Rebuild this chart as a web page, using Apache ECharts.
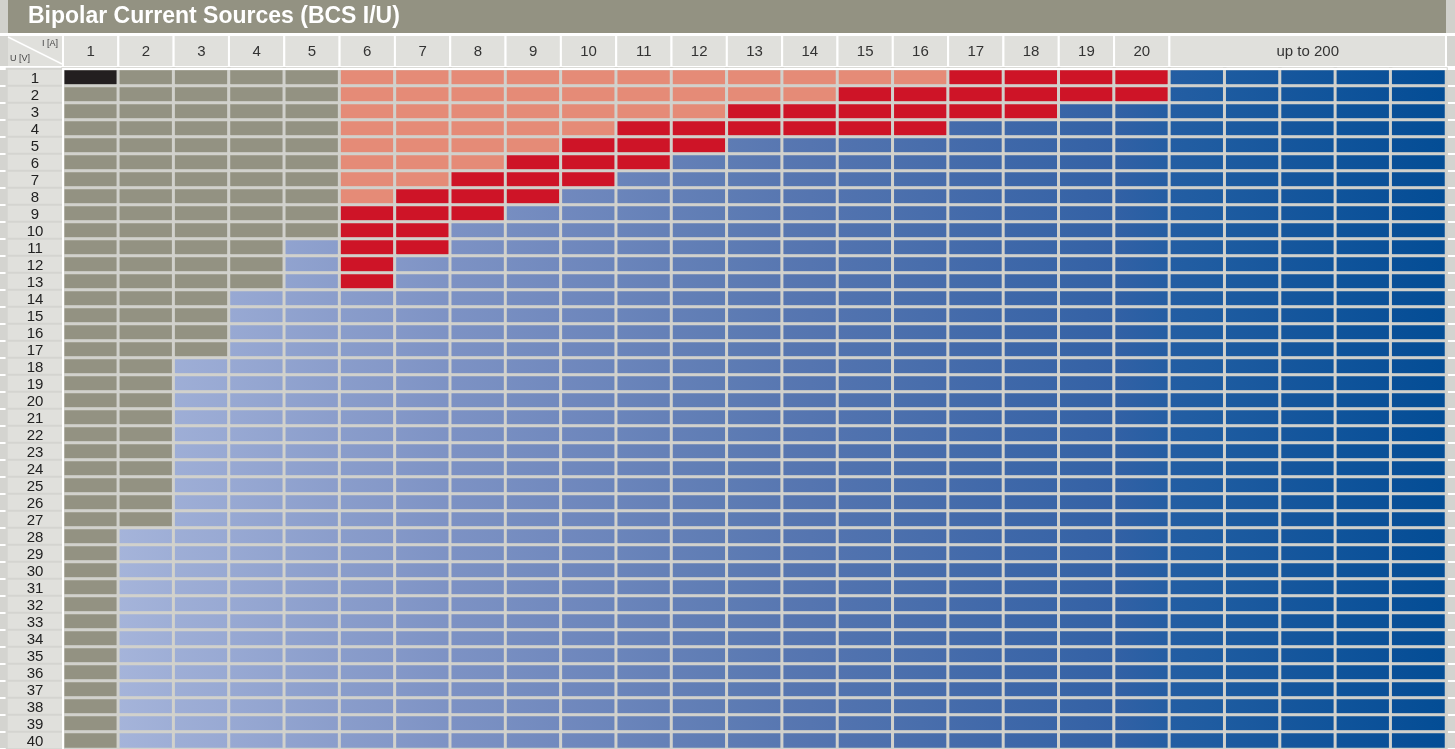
<!DOCTYPE html>
<html>
<head>
<meta charset="utf-8">
<title>Bipolar Current Sources (BCS I/U)</title>
<script src="https://cdn.jsdelivr.net/npm/echarts@6/dist/echarts.min.js"></script>
<style>
  html, body { margin: 0; padding: 0; background: #d1d1cc; }
  #chart { width: 1455px; height: 749px; }
</style>
</head>
<body>
<div id="chart"></div>
<script>
// rows: U [V], columns: I [A]
var voltages = ['1', '2', '3', '4', '5', '6', '7', '8', '9', '10',
  '11', '12', '13', '14', '15', '16', '17', '18', '19', '20',
  '21', '22', '23', '24', '25', '26', '27', '28', '29', '30',
  '31', '32', '33', '34', '35', '36', '37', '38', '39', '40'];
var currents = ['1', '2', '3', '4', '5', '6', '7', '8', '9', '10',
  '11', '12', '13', '14', '15', '16', '17', '18', '19', '20'];
var rangeLabel = 'up to 200';
var rangeCols = ['200-1', '200-2', '200-3', '200-4', '200-5'];

// highest U that is still gray, for I = 1..5
var grayMaxU = [40, 27, 17, 13, 10];
// for I = 6..20 : salmon up to salmonMaxU, then red up to redMaxU, then blue
var salmonMaxU = [8, 7, 6, 5, 4, 3, 3, 2, 2, 1, 1, 0, 0, 0, 0];
var redMaxU = [13, 11, 9, 8, 7, 6, 5, 4, 4, 4, 4, 3, 3, 2, 2];

var KIND_BLACK = 0, KIND_GRAY = 1, KIND_SALMON = 2, KIND_RED = 3, KIND_BLUE = 4;
var flatColors = ['#231f20', '#939282', '#e58b77', '#ce1427'];
// blue shading across the columns (column boundary -> colour)
var blueStops = [[1, '#a5b4da'], [7, '#7d92c4'], [13, '#5877b1'], [19, '#3361a5'], [20, '#245ea3'], [25, '#034d95']];

function hexRgb(h) {
  return [parseInt(h.substr(1, 2), 16), parseInt(h.substr(3, 2), 16), parseInt(h.substr(5, 2), 16)];
}
function blueAt(b) {
  for (var i = 0; i < blueStops.length - 1; i++) {
    var s0 = blueStops[i], s1 = blueStops[i + 1];
    if (b <= s1[0] || i === blueStops.length - 2) {
      var t = Math.max(0, Math.min(1, (b - s0[0]) / (s1[0] - s0[0])));
      var a = hexRgb(s0[1]), c = hexRgb(s1[1]);
      return 'rgb(' + Math.round(a[0] + (c[0] - a[0]) * t) + ',' +
        Math.round(a[1] + (c[1] - a[1]) * t) + ',' + Math.round(a[2] + (c[2] - a[2]) * t) + ')';
    }
  }
}

function cellKind(c, r) {
  var u = r + 1;
  if (c === 0 && r === 0) return KIND_BLACK;
  if (c < 5) return u <= grayMaxU[c] ? KIND_GRAY : KIND_BLUE;
  if (c < 20) {
    var k = c - 5;
    if (u <= salmonMaxU[k]) return KIND_SALMON;
    if (u <= redMaxU[k]) return KIND_RED;
  }
  return KIND_BLUE;
}

var cells = [];
for (var r = 0; r < voltages.length; r++) {
  for (var c = 0; c < currents.length + rangeCols.length; c++) {
    var kind = cellKind(c, r);
    var color = kind === KIND_BLUE ? {
      type: 'linear', x: 0, y: 0, x2: 1, y2: 0,
      colorStops: [{ offset: 0, color: blueAt(c) }, { offset: 1, color: blueAt(c + 1) }]
    } : flatColors[kind];
    cells.push({ value: [c, r, kind], itemStyle: { color: color } });
  }
}

var headerCells = currents.map(function (name, i) { return [i, i + 1, name]; });
headerCells.push([currents.length, currents.length + rangeCols.length, rangeLabel]);

var labelCells = voltages.map(function (v, i) { return [0, i, v]; });

var FONT = '"Liberation Sans", Arial, sans-serif';

var chart = echarts.init(document.getElementById('chart'));
var stripAxis = function (idx) {
  return {
    type: 'category', gridIndex: idx, data: voltages, inverse: true,
    axisLine: { show: false }, axisTick: { show: false }, axisLabel: { show: false },
    splitLine: { show: true, interval: 0, lineStyle: { color: '#ffffff', width: 2 } }
  };
};

chart.setOption({
  animation: false,
  backgroundColor: '#d1d1cc',
  title: {
    text: 'Bipolar Current Sources (BCS I/U)',
    left: 28, top: 5, padding: 0,
    textStyle: { color: '#ffffff', fontSize: 23, fontWeight: 'bold', fontFamily: FONT }
  },
  graphic: [
    { type: 'rect', shape: { x: 8, y: 0, width: 1438, height: 33 }, style: { fill: '#939282' } },
    { type: 'rect', shape: { x: 0, y: 33, width: 1455, height: 36 }, style: { fill: '#ffffff' } },
    { type: 'rect', shape: { x: 0, y: 36, width: 8, height: 30 }, style: { fill: '#d4d4d0' } },
    { type: 'rect', shape: { x: 1447, y: 36, width: 8, height: 30 }, style: { fill: '#d4d4d0' } },
    { type: 'rect', shape: { x: 8, y: 36, width: 54, height: 30 }, style: { fill: '#e0e0dc' } },
    { type: 'line', shape: { x1: 8, y1: 37, x2: 62, y2: 64 }, style: { stroke: '#ffffff', lineWidth: 1.5 } },
    { type: 'text', x: 58, y: 44, style: { text: 'I [A]', fill: '#444', font: '9px ' + FONT, align: 'right', verticalAlign: 'middle' } },
    { type: 'text', x: 10, y: 59, style: { text: 'U [V]', fill: '#444', font: '9px ' + FONT, align: 'left', verticalAlign: 'middle' } }
  ],
  grid: [
    { left: 63, right: 9, top: 35, height: 32 },
    { left: 63, right: 9, top: 69, bottom: 0 },
    { left: 7, width: 56, top: 69, bottom: 0 },
    { left: 0, width: 8, top: 69, bottom: 0, show: true, backgroundColor: '#d4d4d0', borderWidth: 0 },
    { right: 0, width: 9, top: 69, bottom: 0, show: true, backgroundColor: '#d4d4d0', borderWidth: 0 }
  ],
  xAxis: [
    { type: 'value', gridIndex: 0, min: 0, max: currents.length + rangeCols.length, show: false },
    {
      type: 'category', gridIndex: 1, data: currents.concat(rangeCols), position: 'top', z: 10,
      axisLine: { show: true, lineStyle: { color: '#ffffff', width: 2 } },
      axisTick: { show: false }, axisLabel: { show: false }, splitLine: { show: false }
    },
    { type: 'category', gridIndex: 2, data: ['U'], show: false },
    { type: 'value', gridIndex: 3, show: false },
    { type: 'value', gridIndex: 4, show: false }
  ],
  yAxis: [
    { type: 'value', gridIndex: 0, min: 0, max: 1, show: false },
    {
      type: 'category', gridIndex: 1, data: voltages, inverse: true, z: 10,
      axisLine: { show: true, lineStyle: { color: '#ffffff', width: 2 } },
      axisTick: { show: false }, axisLabel: { show: false }, splitLine: { show: false }
    },
    { type: 'category', gridIndex: 2, data: voltages, inverse: true, show: false },
    stripAxis(3),
    stripAxis(4)
  ],
  series: [
    {
      type: 'custom', xAxisIndex: 0, yAxisIndex: 0, data: headerCells,
      encode: { x: [0, 1] }, silent: true,
      renderItem: function (params, api) {
        var p0 = api.coord([api.value(0), 1]);
        var p1 = api.coord([api.value(1), 0]);
        return {
          type: 'rect',
          shape: { x: p0[0], y: p0[1], width: p1[0] - p0[0], height: p1[1] - p0[1] },
          style: { fill: '#e0e0dc', stroke: '#ffffff', lineWidth: 2 },
          textContent: { style: { text: headerCells[params.dataIndex][2], fill: '#333333', font: '15px ' + FONT } },
          textConfig: { position: 'inside', offset: [0, 1] }
        };
      }
    },
    {
      type: 'heatmap', xAxisIndex: 1, yAxisIndex: 1, data: cells, silent: true,
      itemStyle: { borderColor: '#d1d1cc', borderWidth: 3 },
      emphasis: { disabled: true }
    },
    {
      type: 'heatmap', xAxisIndex: 2, yAxisIndex: 2, data: labelCells, silent: true,
      itemStyle: { color: '#e0e0dc', borderColor: '#d4d4d0', borderWidth: 2 },
      label: {
        show: true, color: '#222222', fontSize: 15, fontFamily: FONT, offset: [0, 1],
        formatter: function (p) { return voltages[p.dataIndex]; }
      },
      emphasis: { disabled: true }
    }
  ]
});
</script>
</body>
</html>
